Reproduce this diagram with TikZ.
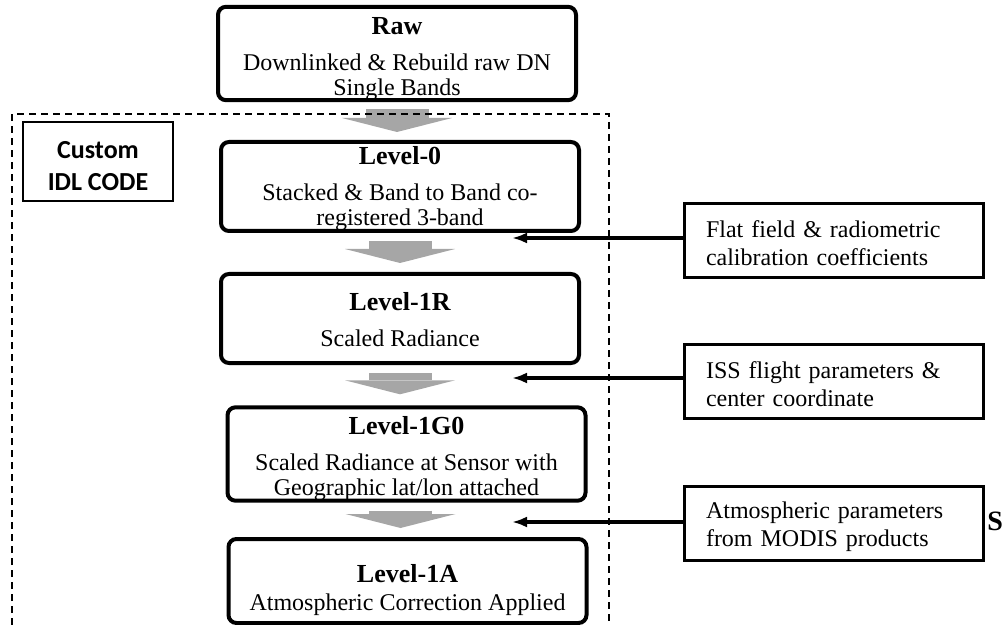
\documentclass[tikz,border=0pt]{standalone}
\usepackage{fontspec}
\setmainfont{Liberation Serif}
\newfontfamily\calibrifont{Carlito}
\usetikzlibrary{positioning, arrows.meta}

% title line of a level box: [gap below]{strut height}{title}
\newcommand{\leveltitle}[3][5.5pt]{{\fontsize{13}{15}\selectfont\bfseries\rule{0pt}{#2}#3}\\[#1]}

\begin{document}
\begin{tikzpicture}[
		x=0.5pt, y=-0.5pt,
		every node/.style={font=\fontsize{12}{12.5}\selectfont},
		levelbox/.style={draw, line width=2pt, rounded corners=4pt, align=center,
			minimum width=179pt, minimum height=44.5pt, inner sep=0pt},
		inputbox/.style={draw, line width=1.5pt, align=left, text width=128pt, inner xsep=10pt,
			minimum width=149.5pt, minimum height=37pt, text height=11.2pt,
			font=\fontsize{12}{14}\selectfont},
		stepflow/.style={draw=black!35, line width=31.5pt,
			-{Triangle[length=7pt, width=55pt, line width=0pt]}},
		feed/.style={draw, line width=2pt, -{Latex[length=7.5pt, width=5.5pt]}}
		]
    \useasboundingbox (0,0) rectangle (1005,625);

    % processing levels
    \node[levelbox] (Raw) at (397,53.5) {\leveltitle{13.6pt}{Raw}Downlinked \& Rebuild raw DN\\Single Bands};
    \node[levelbox] (LevelZero) at (400,186.5) {\leveltitle{10.8pt}{Level-0}Stacked \& Band to Band co-\\registered 3-band};
    \node[levelbox] (LevelOneR) at (400,318.5) {\leveltitle{10.6pt}{Level-1R}Scaled Radiance};
    \node[levelbox] (LevelOneGZero) at (406.5,454) {\leveltitle{13.6pt}{Level-1G0}Scaled Radiance at Sensor with\\Geographic lat/lon attached};
    \node[levelbox, minimum height=42pt] (LevelOneA) at (407.5,581) {\leveltitle[1.5pt]{17.6pt}{Level-1A}Atmospheric Correction Applied};

    \node[draw, line width=1pt, minimum width=75pt, minimum height=39.5pt, align=center,
          font=\calibrifont\fontsize{13}{16}\selectfont\bfseries] (CustomCode) at (98,161.5) {\rule{0pt}{13.4pt}Custom\\IDL CODE};

    % inputs
    \node[inputbox] (FlatField) at (834,240.5) {Flat field \& radiometric\\calibration coefficients};
    \node[inputbox] (FlightParams) at (834,381) {ISS flight parameters \&\\center coordinate};
    \node[inputbox] (AtmosParams) at (834,523.5) {Atmospheric parameters\\from MODIS products};
    \node[font=\fontsize{14}{16}\selectfont\bfseries, anchor=base west, inner sep=0pt] (StrayS) at (987,530) {S};

    \coordinate (CalTip) at (512,238);
    \coordinate (FlightTip) at (512,378);
    \coordinate (AtmosTip) at (512,522);

    % Add arrows between levels
    \draw[stepflow] ([yshift=-3.5pt]Raw.south) -- ([yshift=4pt]Raw.south |- LevelZero.north);
    \draw[stepflow] ([yshift=-4pt]LevelZero.south) -- ([yshift=4.5pt]LevelZero.south |- LevelOneR.north);
    \draw[stepflow] ([yshift=-4pt]LevelOneR.south) -- ([yshift=5.5pt]LevelOneR.south |- LevelOneGZero.north);
    \draw[stepflow] ([xshift=-3pt, yshift=-4pt]LevelOneGZero.south) -- ([xshift=-3pt, yshift=4.5pt]LevelOneGZero.south |- LevelOneA.north);

    \draw[feed] (FlatField.west |- CalTip) -- (CalTip);
    \draw[feed] (FlightParams.west |- FlightTip) -- (FlightTip);
    \draw[feed] (AtmosParams.west |- AtmosTip) -- (AtmosTip);

    % IDL region
    \draw[line width=1pt, dash pattern=on 3.5pt off 2.5pt] (12,625) |- (609,114) -- (609,625);

  \end{tikzpicture}
\end{document}
